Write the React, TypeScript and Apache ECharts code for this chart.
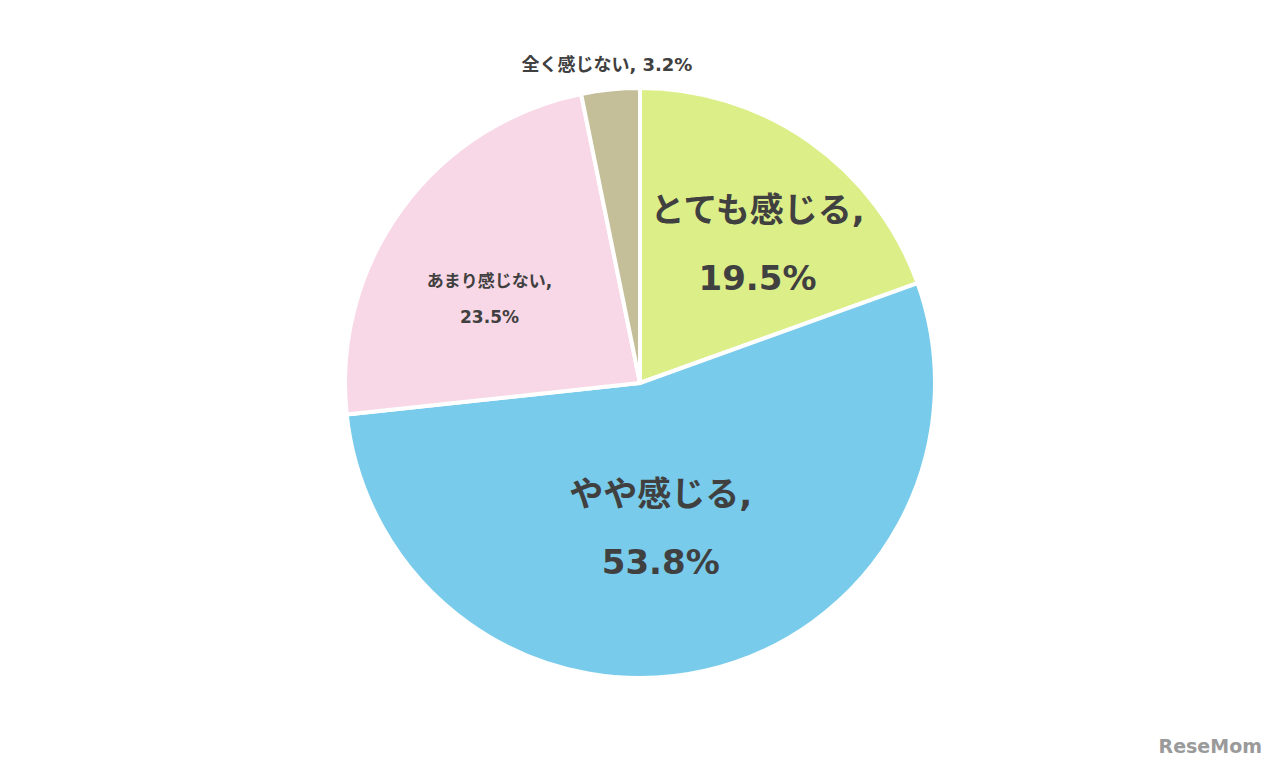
import React, { useEffect, useRef } from "react";
import * as echarts from "echarts";

const categories = ["とても感じる", "やや感じる", "あまり感じない", "全く感じない"];
const values = [19.5, 53.8, 23.5, 3.2];
const colors = ["#DCEE88", "#78CBEA", "#F8D8E6", "#C4BF99"];
const fontSizes = [34, 34, 17, 18];
const lineHeights = [68, 68, 36, 36];
const labelOffsets = [
  [31, -16],
  [-13, -2],
  [-29, 5],
  [-18, -169],
];

export default function App() {
  const ref = useRef<HTMLDivElement>(null);
  useEffect(() => {
    document.body.style.margin = "0";
    const chart = echarts.init(ref.current!, null, { renderer: "svg" });
    const font = "'DejaVu Sans', 'Noto Sans CJK JP', sans-serif";
    chart.setOption({
      animation: false,
      backgroundColor: "#ffffff",
      series: [
        {
          type: "pie",
          center: [640, 383],
          radius: 295,
          startAngle: 90,
          clockwise: true,
          avoidLabelOverlap: false,
          itemStyle: { borderColor: "#ffffff", borderWidth: 4 },
          labelLine: { show: false },
          data: categories.map((name, i) => {
            const fs = fontSizes[i];
            const isTop = i === 3;
            return {
              name,
              value: values[i],
              itemStyle: { color: colors[i] },
              label: {
                show: true,
                position: "inside",
                formatter: isTop ? "{b}, {c}%" : "{b},\n{c}%",
                fontSize: fs,
                fontWeight: "bold",
                fontFamily: font,
                color: "#404040",
                lineHeight: lineHeights[i],
                align: "center",
              },
            };
          }),
          labelLayout: (params: any) => {
            const o = labelOffsets[params.dataIndex];
            return { dx: o[0], dy: o[1] };
          },
        },
      ],
      graphic: [
        {
          type: "text",
          right: 18,
          bottom: 13,
          style: {
            text: "ReseMom",
            fontSize: 19,
            fontWeight: "bold",
            fontFamily: "'DejaVu Sans', sans-serif",
            fill: "#9a9a9a",
          },
        },
      ],
    });
    return () => chart.dispose();
  }, []);
  return <div ref={ref} style={{ width: 1280, height: 768 }} />;
}
